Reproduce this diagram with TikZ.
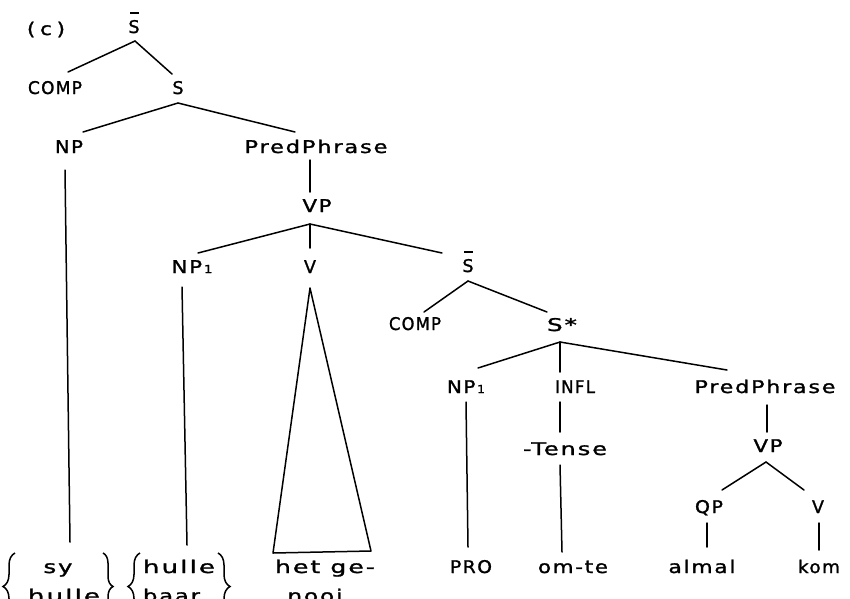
\documentclass[tikz,border=0pt]{standalone}
\usepackage{fontspec}
\setmainfont{DejaVu Sans}[LetterSpace=8, FakeBold=1.3]
\usepackage{graphicx}
\usetikzlibrary{calc,decorations.pathreplacing}

% squeeze or widen a label to a given width, keeping its height
\newcommand\fitto[2]{\resizebox{#1pt}{\height}{#2}}
% S with a bar over it
\newcommand\sbar{\makebox[0pt][l]{\hspace{1.8pt}\rule[19pt]{8.5pt}{1.6pt}}S}
% small index 1
\newcommand\idx{\hspace{1.5pt}{\fontsize{11}{11}\selectfont 1}}

\begin{document}
\begin{tikzpicture}[x=1pt,y=-1pt,
  lab/.style={anchor=base, inner sep=0pt, font=\fontsize{17.5}{19}\selectfont},
  edge/.style={line width=1.5pt, line cap=round},
  bracestyle/.style={line width=1.5pt, decorate}]
\useasboundingbox (0,0) rectangle (850,598);
\fill[white] (0,0) rectangle (850,598);

% ---------- labels ----------
\node[lab] (lblc)  at (46,35)    {\fitto{38}{(\hspace{4pt}c\hspace{4pt})}};
\node[lab] (sbA)   at (134,33)   {\sbar};
\node[lab] (compA) at (55,94)    {\fitto{54}{COMP}};
\node[lab] (sA)    at (178,94)   {S};
\node[lab] (npA)   at (69,153)   {\fitto{28}{NP}};
\node[lab] (predA) at (316,153)  {\fitto{143}{PredPhrase}};
\node[lab] (vpA)   at (317,212)  {\fitto{29}{VP}};
\node[lab] (npiA)  at (192,273)  {\fitto{41}{NP\idx}};
\node[lab] (vA)    at (310,273)  {V};
\node[lab] (sbB)   at (468,272)  {\sbar};
\node[lab] (compB) at (415,330)  {\fitto{52}{COMP}};
\node[lab] (sstar) at (562,331)  {\fitto{30}{S*}};
\node[lab] (npiB)  at (466,393)  {\fitto{38}{NP\idx}};
\node[lab] (infl)  at (575,393)  {\fitto{40}{INFL}};
\node[lab] (predB) at (765,393)  {\fitto{141}{PredPhrase}};
\node[lab] (tense) at (565,455)  {\fitto{84}{-Tense}};
\node[lab] (vpB)   at (768,452)  {\fitto{29}{VP}};
\node[lab] (qp)    at (709,513)  {\fitto{28}{QP}};
\node[lab] (vB)    at (818,513)  {V};
\node[lab] (pro)   at (471,573)  {\fitto{42}{PRO}};
\node[lab] (omte)  at (573,573)  {\fitto{70}{om-te}};
\node[lab] (almal) at (702,573)  {\fitto{67}{almal}};
\node[lab] (kom)   at (819,573)  {\fitto{42}{kom}};
\node[lab] (syA)   at (58,573)   {\fitto{29}{sy}};
\node[lab] (hulA)  at (64,602)   {\fitto{72}{hulle}};
\node[lab] (hulB)  at (179,573)  {\fitto{72}{hulle}};
\node[lab] (baar)  at (171.5,602){\fitto{57}{baar}};
\node[lab] (hetge) at (325,573)  {\fitto{100}{het ge-}};
\node[lab] (nooi)  at (315,602)  {\fitto{55}{nooi}};

% ---------- branches ----------
\draw[edge] ($(sbA.base)+(1,8)$) -- ($(compA.base)+(13,-22)$);
\draw[edge] ($(sbA.base)+(1,8)$) -- ($(sA.base)+(-6,-20)$);
\draw[edge] ($(sA.base)+(0,9)$) -- ($(npA.base)+(14,-21)$);
\draw[edge] ($(sA.base)+(0,9)$) -- ($(predA.base)+(-21,-21)$);
\draw[edge] ($(npA.base)+(-4,17)$) -- ($(syA.base)+(12,-31)$);
\draw[edge] ($(predA.base)+(-6,7)$) -- ($(vpA.base)+(-7,-20)$);
\draw[edge] ($(vpA.base)+(-7,12)$) -- ($(npiA.base)+(6,-20)$);
\draw[edge] ($(vpA.base)+(-7,12)$) -- ($(vA.base)+(0,-25)$);
\draw[edge] ($(vpA.base)+(-7,12)$) -- ($(sbB.base)+(-26,-19)$);
\draw[edge] ($(npiA.base)+(-10,14)$) -- ($(hulB.base)+(8,-28)$);
% triangle over the V
\draw[edge, line join=round] ($(vA.base)+(0,15)$) -- ($(hetge.base)+(-52,-20)$)
  -- ($(hetge.base)+(46,-22)$) -- cycle;
\draw[edge] ($(sbB.base)+(0,9)$) -- ($(compB.base)+(9,-18)$);
\draw[edge] ($(sbB.base)+(0,9)$) -- ($(sstar.base)+(-15,-19)$);
\draw[edge] ($(sstar.base)+(-2,11)$) -- ($(npiB.base)+(12,-25)$);
\draw[edge] ($(sstar.base)+(-2,11)$) -- ($(infl.base)+(-15,-21)$);
\draw[edge] ($(sstar.base)+(-2,11)$) -- ($(predB.base)+(-38,-23)$);
\draw[edge] ($(npiB.base)+(0,9)$) -- ($(pro.base)+(-3,-26)$);
\draw[edge] ($(infl.base)+(-15,9)$) -- ($(tense.base)+(-5,-23)$);
\draw[edge] ($(tense.base)+(-5,10)$) -- ($(omte.base)+(-11,-21)$);
\draw[edge] ($(predB.base)+(2,12)$) -- ($(vpB.base)+(-1,-20)$);
\draw[edge] ($(vpB.base)+(-2,10)$) -- ($(qp.base)+(13,-23)$);
\draw[edge] ($(vpB.base)+(-2,10)$) -- ($(vB.base)+(-14,-23)$);
\draw[edge] ($(qp.base)+(-2,10)$) -- ($(almal.base)+(5,-26)$);
\draw[edge] ($(vB.base)+(1,10)$) -- ($(kom.base)+(0,-23)$);

% ---------- braces round the word choices ----------
\draw[bracestyle, decoration={brace, amplitude=12pt}] (15,620) -- (15,553);
\draw[bracestyle, decoration={brace, amplitude=10pt}] (103,553) -- (103,620);
\draw[bracestyle, decoration={brace, amplitude=12pt}] (140,620) -- (140,553);
\draw[bracestyle, decoration={brace, amplitude=12pt}] (218,553) -- (218,620);
\end{tikzpicture}
\end{document}
